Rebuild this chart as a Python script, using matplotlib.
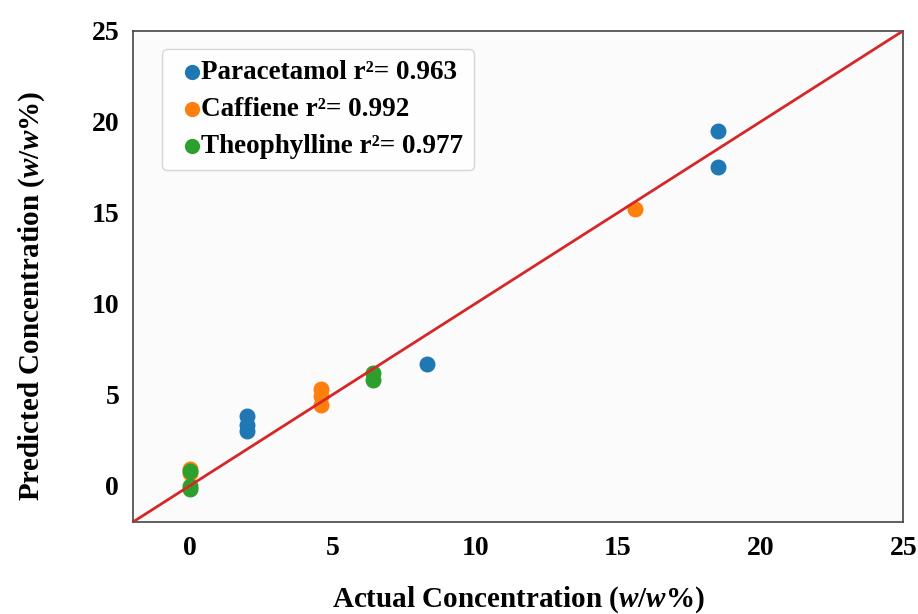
import matplotlib.pyplot as plt

plt.rcParams['font.family'] = ['Liberation Serif', 'DejaVu Serif']
plt.rcParams['font.weight'] = 'bold'
plt.rcParams['mathtext.fontset'] = 'custom'
plt.rcParams['mathtext.rm'] = 'Liberation Serif:bold'
plt.rcParams['mathtext.it'] = 'Liberation Serif:italic:bold'

para_x = [2, 2, 2, 8.3, 18.5, 18.5]
para_y = [3.0, 3.3, 3.8, 6.7, 17.5, 19.5]
caff_x = [0, 0, 4.6, 4.6, 4.6, 15.6]
caff_y = [0.9, 0.7, 5.3, 4.9, 4.4, 15.2]
theo_x = [0, 0, 0, 6.4, 6.4]
theo_y = [0.8, 0.0, -0.2, 6.2, 5.8]
labels = ["Paracetamol r\u00b2= 0.963", "Caffiene r\u00b2= 0.992", "Theophylline r\u00b2= 0.977"]

fig = plt.figure(figsize=(9.18, 6.14), dpi=100)
ax = fig.add_axes([0.145, 0.15, 0.839, 0.80])
ax.set_facecolor('#fbfbfb')

ax.scatter(para_x, para_y, s=110, color='#1f77b4', label=labels[0], zorder=3)
ax.scatter(caff_x, caff_y, s=110, color='#ff7f0e', label=labels[1], zorder=3)
ax.scatter(theo_x, theo_y, s=110, color='#2ca02c', label=labels[2], zorder=3)
ax.plot([-2, 25], [-2, 25], color='#d62728', lw=2, zorder=4)

ax.set_xlim(-2, 25)
ax.set_ylim(-2, 25)
ax.set_xticks([0, 5, 10, 15, 20, 25])
ax.set_yticks([0, 5, 10, 15, 20, 25])
ax.tick_params(length=0, labelsize=20, pad=10)
for s in ax.spines.values():
    s.set_color('#444444')
    s.set_linewidth(1.2)

ax.set_xlabel(r"Actual Concentration ($\mathit{w/w}$%)", fontsize=21, fontweight='bold', labelpad=17)
ax.set_ylabel(r"Predicted Concentration ($\mathit{w/w}$%)", fontsize=21, fontweight='bold')
ax.yaxis.set_label_coords(-0.112, 0.46)

leg = ax.legend(loc='upper left', fontsize=19.5, handletextpad=-0.35, borderpad=0.4,
                labelspacing=0.45, markerscale=0.95, handlelength=1.4,
                bbox_to_anchor=(0.02, 0.99), frameon=True, fancybox=True)
leg.get_frame().set_edgecolor('#cccccc')

fig.savefig('out.png', dpi=100)
